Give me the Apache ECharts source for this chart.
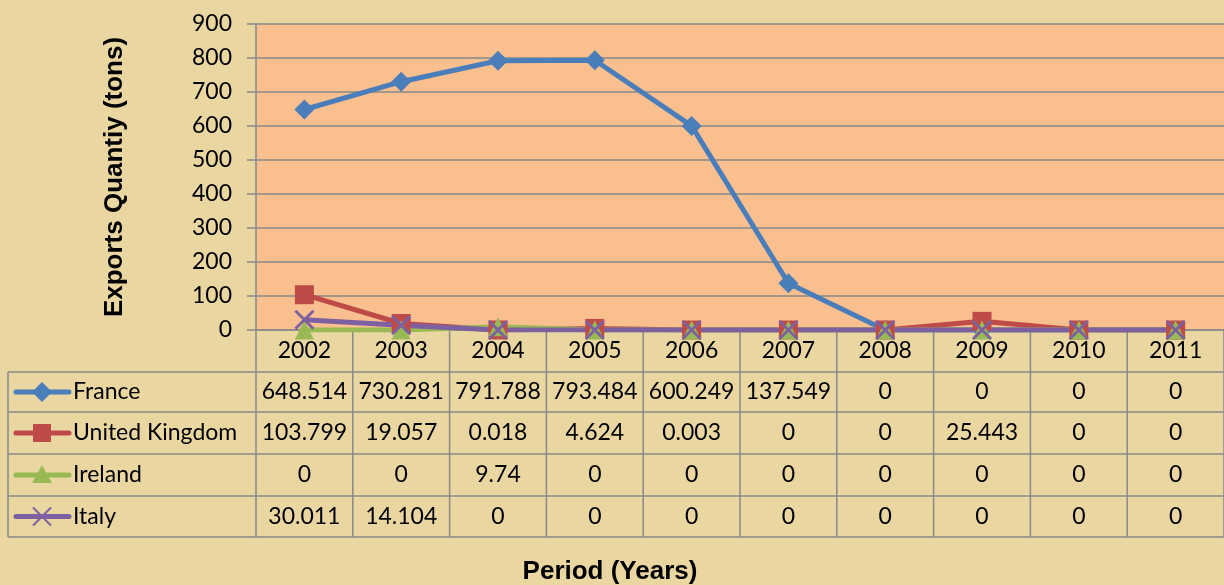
<!DOCTYPE html>
<html>
<head>
<meta charset="utf-8">
<script src="https://cdn.jsdelivr.net/npm/echarts@6/dist/echarts.min.js"></script>
<style>
  html, body { margin: 0; padding: 0; }
  #chart { width: 1224px; height: 585px; }
</style>
</head>
<body>
<div id="chart"></div>
<script>
// data
const years = ['2002', '2003', '2004', '2005', '2006', '2007', '2008', '2009', '2010', '2011']
const france = [648.514, 730.281, 791.788, 793.484, 600.249, 137.549, 0, 0, 0, 0]
const unitedKingdom = [103.799, 19.057, 0.018, 4.624, 0.003, 0, 0, 25.443, 0, 0]
const ireland = [0, 0, 9.74, 0, 0, 0, 0, 0, 0, 0]
const italy = [30.011, 14.104, 0, 0, 0, 0, 0, 0, 0, 0]

const crossPath = 'path://M0,1 L1,0 L5,4 L9,0 L10,1 L6,5 L10,9 L9,10 L5,6 L1,10 L0,9 L4,5 Z'

const seriesDefs = [
  { name: 'France', data: france, color: '#4A7EBB', symbol: 'diamond', size: 20 },
  { name: 'United Kingdom', data: unitedKingdom, color: '#BE4B48', symbol: 'rect', size: 19 },
  { name: 'Ireland', data: ireland, color: '#98B954', symbol: 'triangle', size: 19 },
  { name: 'Italy', data: italy, color: '#7D60A0', symbol: crossPath, size: 20 }
]

const gridLine = '#898989'
const textFont = 'Lato, "Open Sans", sans-serif'
const titleFont = '"Liberation Sans", Arial, sans-serif'

const chart = echarts.init(document.getElementById('chart'))

chart.setOption({
  animation: false,
  backgroundColor: '#E9D6A0',
  grid: {
    left: 256,
    right: 0,
    top: 24,
    bottom: 255,
    show: true,
    backgroundColor: '#F9BF8F',
    borderWidth: 0
  },
  xAxis: {
    type: 'category',
    data: years,
    boundaryGap: true,
    axisLine: { lineStyle: { color: gridLine, width: 1.5 } },
    axisTick: { length: 42, lineStyle: { color: gridLine, width: 1.5 } },
    axisLabel: { color: '#000', fontSize: 23, fontFamily: textFont, margin: 9 }
  },
  yAxis: {
    type: 'value',
    min: 0,
    max: 900,
    interval: 100,
    name: 'Exports Quantiy (tons)',
    nameLocation: 'middle',
    nameGap: 128,
    nameTextStyle: { color: '#000', fontSize: 26, fontWeight: 'bold', fontFamily: titleFont },
    axisLine: { show: true, lineStyle: { color: gridLine, width: 1.5 } },
    axisTick: { show: true, length: 9, lineStyle: { color: gridLine, width: 1.5 } },
    axisLabel: { color: '#000', fontSize: 23, fontFamily: textFont, margin: 24 },
    splitLine: { lineStyle: { color: gridLine, width: 1.5 } }
  },
  series: seriesDefs.map(s => ({
    name: s.name,
    type: 'line',
    data: s.data,
    symbol: s.symbol,
    symbolSize: s.size,
    showAllSymbol: true,
    lineStyle: { color: s.color, width: 5 },
    itemStyle: { color: s.color }
  }))
})

// marker shapes for the legend keys inside the table
function keyMarker(r, cx, cy, color) {
  const h = 10
  if (r === 0) {
    return { type: 'polygon', silent: true, shape: { points: [[cx, cy - h], [cx + h, cy], [cx, cy + h], [cx - h, cy]] }, style: { fill: color } }
  }
  if (r === 1) {
    return { type: 'rect', silent: true, shape: { x: cx - 9, y: cy - 9, width: 18, height: 18 }, style: { fill: color } }
  }
  if (r === 2) {
    return { type: 'polygon', silent: true, shape: { points: [[cx, cy - 10], [cx + 10, cy + 8], [cx - 10, cy + 8]] }, style: { fill: color } }
  }
  return {
    type: 'group', silent: true,
    children: [
      { type: 'line', shape: { x1: cx - 9, y1: cy - 9, x2: cx + 9, y2: cy + 9 }, style: { stroke: color, lineWidth: 2 } },
      { type: 'line', shape: { x1: cx + 9, y1: cy - 9, x2: cx - 9, y2: cy + 9 }, style: { stroke: color, lineWidth: 2 } }
    ]
  }
}

// data table under the plot, placed from the axis positions
function buildTable() {
  const elements = []
  const rowLines = [372, 412, 454, 496, 537]
  const tableLeft = 8
  const plotLeft = chart.convertToPixel({ xAxisIndex: 0 }, years[0]) - 0
  const plotBottom = chart.convertToPixel({ yAxisIndex: 0 }, 0)
  const xs = years.map(y => chart.convertToPixel({ xAxisIndex: 0 }, y))
  const colW = xs[1] - xs[0]
  const bounds = [plotLeft - colW / 2].concat(xs.map(x => x + colW / 2))

  rowLines.forEach(y => {
    elements.push({
      type: 'line', silent: true,
      shape: { x1: tableLeft, y1: y, x2: 1224, y2: y },
      style: { stroke: gridLine, lineWidth: 1.5 }
    })
  })
  elements.push({
    type: 'line', silent: true,
    shape: { x1: tableLeft, y1: rowLines[0], x2: tableLeft, y2: rowLines[rowLines.length - 1] },
    style: { stroke: gridLine, lineWidth: 1.5 }
  })
  bounds.forEach(x => {
    elements.push({
      type: 'line', silent: true,
      shape: { x1: x, y1: plotBottom, x2: x, y2: rowLines[rowLines.length - 1] },
      style: { stroke: gridLine, lineWidth: 1.5 }
    })
  })

  seriesDefs.forEach((s, r) => {
    const cy = (rowLines[r] + rowLines[r + 1]) / 2
    elements.push({
      type: 'line', silent: true,
      shape: { x1: 16, y1: cy, x2: 69, y2: cy },
      style: { stroke: s.color, lineWidth: 5, lineCap: 'round' }
    })
    elements.push(keyMarker(r, 42, cy, s.color))
    elements.push({
      type: 'text', silent: true,
      style: { text: s.name, x: 73, y: cy, fill: '#000', font: '23px ' + textFont, verticalAlign: 'middle' }
    })
    s.data.forEach((v, c) => {
      elements.push({
        type: 'text', silent: true,
        style: { text: String(v), x: xs[c], y: cy, fill: '#000', font: '23px ' + textFont, align: 'center', verticalAlign: 'middle' }
      })
    })
  })

  elements.push({
    type: 'text', silent: true,
    style: { text: 'Period (Years)', x: 610, y: 572, fill: '#000', font: 'bold 26px ' + titleFont, align: 'center', verticalAlign: 'middle' }
  })

  return elements
}

chart.setOption({ graphic: buildTable() })
</script>
</body>
</html>
